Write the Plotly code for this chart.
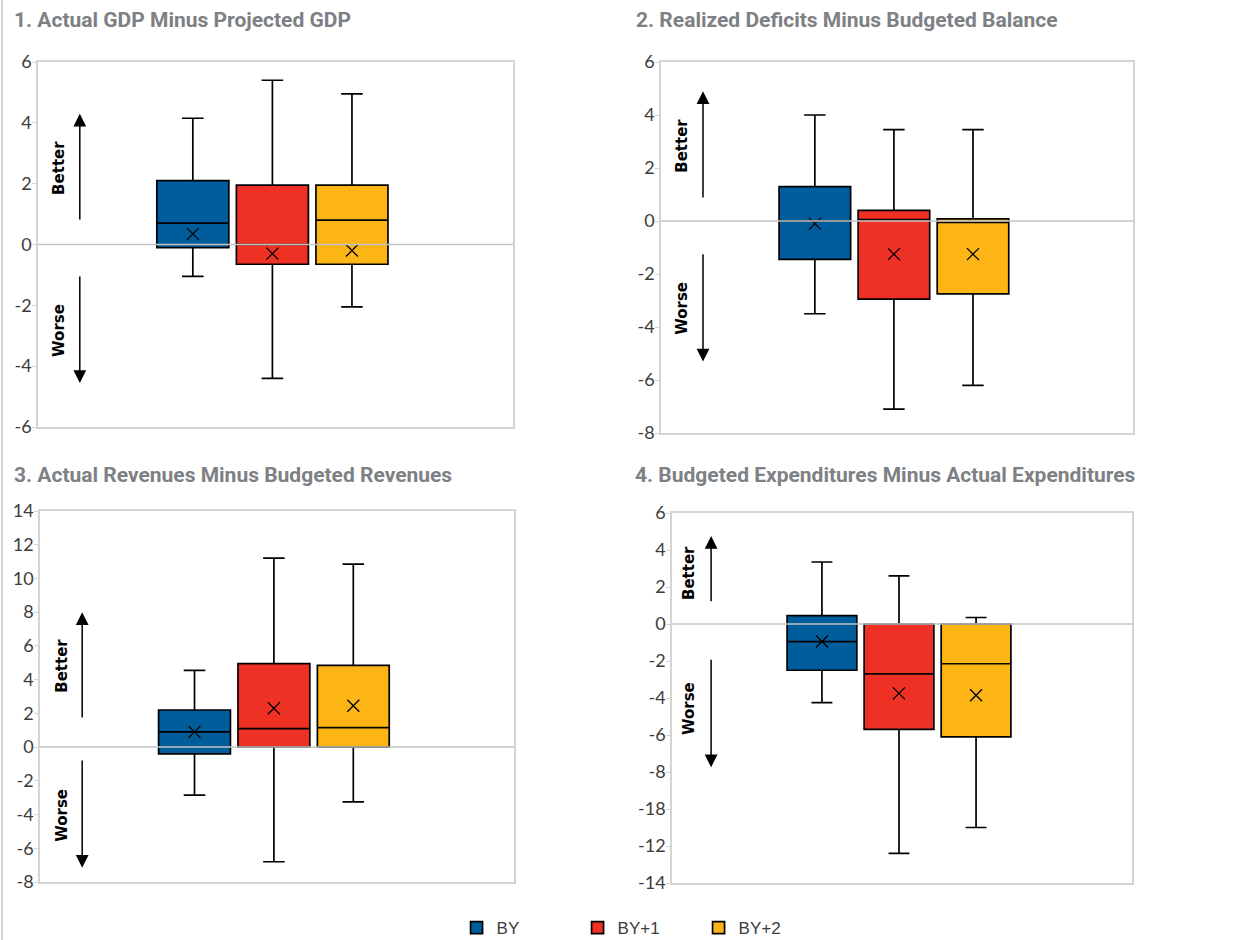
import plotly.graph_objects as go

# ---- data -------------------------------------------------------------
series = ["BY", "BY+1", "BY+2"]
colors = ["#005D9C", "#EE3124", "#FDB515"]

titles = [
    "1. Actual GDP Minus Projected GDP",
    "2. Realized Deficits Minus Budgeted Balance",
    "3. Actual Revenues Minus Budgeted Revenues",
    "4. Budgeted Expenditures Minus Actual Expenditures",
]

# one list per panel, values ordered BY, BY+1, BY+2
gdp_low = [-1.05, -4.4, -2.05]
gdp_q1 = [-0.1, -0.65, -0.65]
gdp_med = [0.7, 0.0, 0.8]
gdp_q3 = [2.1, 1.95, 1.95]
gdp_high = [4.15, 5.4, 4.95]
gdp_mean = [0.35, -0.3, -0.2]

def_low = [-3.5, -7.1, -6.2]
def_q1 = [-1.45, -2.95, -2.75]
def_med = [0.0, 0.05, -0.05]
def_q3 = [1.3, 0.4, 0.08]
def_high = [4.0, 3.45, 3.45]
def_mean = [-0.1, -1.25, -1.25]

rev_low = [-2.85, -6.8, -3.25]
rev_q1 = [-0.4, 0.0, 0.0]
rev_med = [0.9, 1.1, 1.15]
rev_q3 = [2.2, 4.95, 4.85]
rev_high = [4.55, 11.2, 10.85]
rev_mean = [0.9, 2.3, 2.45]

exp_low = [-4.25, -12.4, -11.0]
exp_q1 = [-2.5, -5.7, -6.1]
exp_med = [-0.95, -2.7, -2.15]
exp_q3 = [0.45, 0.0, 0.0]
exp_high = [3.35, 2.6, 0.35]
exp_mean = [-0.95, -3.75, -3.85]

panels = [
    (gdp_low, gdp_q1, gdp_med, gdp_q3, gdp_high, gdp_mean),
    (def_low, def_q1, def_med, def_q3, def_high, def_mean),
    (rev_low, rev_q1, rev_med, rev_q3, rev_high, rev_mean),
    (exp_low, exp_q1, exp_med, exp_q3, exp_high, exp_mean),
]

# y-axis ticks per panel (labels as printed)
ticks_p1 = [6, 4, 2, 0, -2, -4, -6]
labels_p1 = ["6", "4", "2", "0", "-2", "-4", "-6"]
ticks_p2 = [6, 4, 2, 0, -2, -4, -6, -8]
labels_p2 = ["6", "4", "2", "0", "-2", "-4", "-6", "-8"]
ticks_p3 = [14, 12, 10, 8, 6, 4, 2, 0, -2, -4, -6, -8]
labels_p3 = ["14", "12", "10", "8", "6", "4", "2", "0", "-2", "-4", "-6", "-8"]
ticks_p4 = [6, 4, 2, 0, -2, -4, -6, -8, -10, -12, -14]
labels_p4 = ["6", "4", "2", "0", "-2", "-4", "-6", "-8", "-18", "-12", "-14"]
tick_sets = [(ticks_p1, labels_p1), (ticks_p2, labels_p2), (ticks_p3, labels_p3), (ticks_p4, labels_p4)]
y_ranges = [(-6, 6), (-8, 6), (-8, 14), (-14, 6)]

# ---- layout geometry ----------------------------------------------------
W, H = 1242, 940
# plot areas in pixels: (left, right, top, bottom)
areas = [(38, 513, 62, 427), (661, 1133, 62, 433), (40, 514, 511, 882), (672, 1132, 513, 883)]
title_pos = [(12, 20), (634, 20), (12, 475), (633, 475)]
# arrow guides: (x frac, better tail, better tip, worse tail, worse tip, text x frac, better text px, worse text px)
guides = [
    (0.088, 0.77, 4.3, -1.0, -4.55, 0.044, 168, 330),
    (0.089, 0.83, 4.9, -1.2, -5.3, 0.044, 146, 308),
    (0.089, 1.66, 8.0, -0.7, -7.15, 0.046, 666, 815),
    (0.085, 1.15, 4.75, -1.85, -7.75, 0.037, 573, 709),
]

tick_font = dict(family="Lato, Open Sans, sans-serif", size=18, color="#3c3c3c")
frame_color = "#d4d4d4"

fig = go.Figure()
layout = {}
annotations = []
shapes = []

for i, (low, q1, med, q3, high, mean) in enumerate(panels):
    n = "" if i == 0 else str(i + 1)
    xa, ya = "x" + n, "y" + n
    left, right, top, bottom = areas[i]

    for j, name in enumerate(series):
        fig.add_trace(go.Box(
            x=[name], q1=[q1[j]], median=[med[j]], q3=[q3[j]],
            lowerfence=[low[j]], upperfence=[high[j]],
            name=name, legendgroup=name, showlegend=(i == 0),
            fillcolor=colors[j], line=dict(color="#000000", width=1.7),
            whiskerwidth=0.3, width=0.905, boxpoints=False,
            xaxis=xa, yaxis=ya, hoverinfo="skip",
        ))
    fig.add_trace(go.Scatter(
        x=series, y=mean, mode="markers", showlegend=False,
        marker=dict(symbol="x-thin", size=12, line=dict(color="#000000", width=1.3)),
        xaxis=xa, yaxis=ya, hoverinfo="skip",
    ))

    layout["xaxis" + n] = dict(
        domain=[left / W, right / W], anchor=ya, type="category",
        categoryorder="array", categoryarray=series,
        range=[-1.946, 4.024], showticklabels=False, ticks="",
        showgrid=False, zeroline=False, automargin=False,
        showline=True, mirror=True, linecolor=frame_color, linewidth=1.5,
    )
    y0, y1 = y_ranges[i]
    tv, tt = tick_sets[i]
    layout["yaxis" + n] = dict(
        domain=[1 - bottom / H, 1 - top / H], anchor=xa, range=[y0, y1],
        tickmode="array", tickvals=tv, ticktext=tt,
        showgrid=False, zeroline=False, automargin=False,
        showline=True, mirror=True, linecolor=frame_color, linewidth=1.5,
        ticks="outside", ticklen=4, tickcolor=frame_color,
        tickfont=tick_font, ticklabelstandoff=-3,
    )

    # zero reference line, drawn over the boxes
    shapes.append(dict(
        type="line", xref=xa + " domain", yref=ya, x0=0, x1=1, y0=0, y1=0,
        line=dict(color="#c4c4c4", width=1.5), layer="above",
    ))

    # panel title
    tx, ty = title_pos[i]
    annotations.append(dict(
        text=titles[i], xref="paper", yref="paper", x=tx / W, y=1 - ty / H,
        xanchor="left", yanchor="middle", showarrow=False,
        font=dict(family="Roboto, sans-serif", size=21,
                  color="#7d8084", weight="bold"),
    ))

    # Better / Worse direction arrows
    gx, b_tail, b_tip, w_tail, w_tip, lx, by_px, wy_px = guides[i]
    for tail, tip in ((b_tail, b_tip), (w_tail, w_tip)):
        annotations.append(dict(
            text="", xref=xa + " domain", yref=ya, x=gx, y=tip,
            axref=xa + " domain", ayref=ya, ax=gx, ay=tail,
            showarrow=True, arrowhead=2, arrowsize=1.7, arrowwidth=1.5,
            arrowcolor="#000000", standoff=0,
        ))
    for label, py in (("Better", by_px), ("Worse", wy_px)):
        annotations.append(dict(
            text=label, xref=xa + " domain", yref="paper", x=lx, y=1 - py / H,
            xanchor="center", yanchor="middle", textangle=-90, showarrow=False,
            font=dict(family="DejaVu Sans, sans-serif", size=15,
                      color="#000000", weight="bold"),
        ))

# thin frame line on the left edge
shapes.append(dict(
    type="line", xref="paper", yref="paper", x0=2 / W, x1=2 / W, y0=0, y1=1,
    line=dict(color="#c8c8c8", width=1.5),
))

fig.update_layout(
    width=W, height=H, margin=dict(l=0, r=0, t=0, b=0, autoexpand=False),
    paper_bgcolor="#ffffff", plot_bgcolor="#ffffff",
    boxmode="overlay",
    annotations=annotations, shapes=shapes,
    showlegend=True,
    legend=dict(
        orientation="h", x=0.3676, xanchor="left", y=1 - 928 / H, yanchor="middle",
        font=dict(family="Liberation Sans, Arial, sans-serif", size=17, color="#3c3c3c"),
        entrywidth=76, entrywidthmode="pixels", traceorder="normal",
    ),
    **layout,
)

fig.write_html("out.html")
